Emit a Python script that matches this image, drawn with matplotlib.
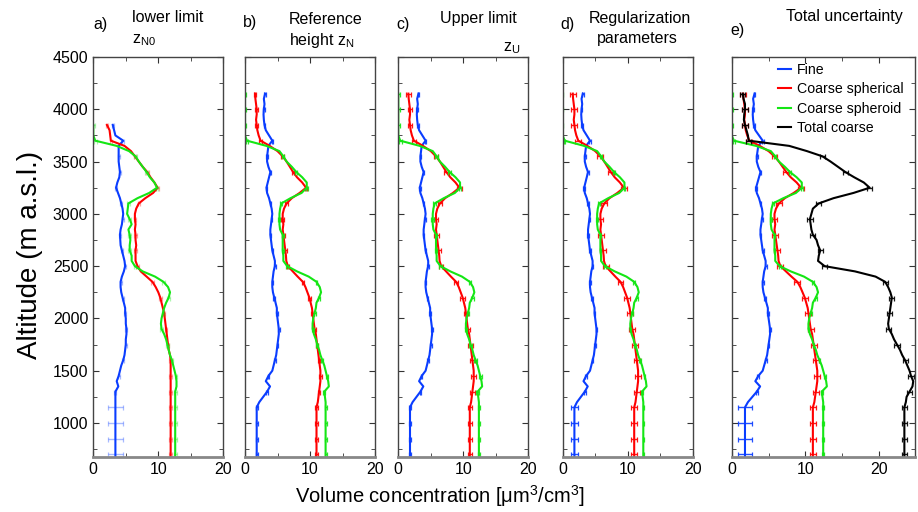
import numpy as np
import matplotlib
matplotlib.use("Agg")
import matplotlib.pyplot as plt
from matplotlib.ticker import MultipleLocator

plt.rcParams['font.family'] = ['Liberation Sans', 'DejaVu Sans']

# altitude grid (m a.s.l.), 650 ... 4150 every 50 m
altitude = np.arange(650, 4151, 50)
nan = np.nan

# reference profiles (panels b - e)
fine_ref = [1.8, 1.8, 1.8, 1.8, 1.8, 1.8, 1.8, 1.8, 1.8, 1.8, 1.8,
            2.2, 2.8, 3.4, 3.85, 3.2, 3.6, 4.2, 4.4, 4.6, 4.8,
            4.9, 5.0, 5.1, 5.2, 5.2, 5.1, 5.0, 4.9, 4.9, 4.7,
            4.5, 4.3, 4.2, 4.2, 4.3, 4.4, 4.6, 4.6, 4.4, 4.2,
            4.1, 4.0, 3.9, 3.9, 4.0, 4.1, 4.2, 4.1, 3.9, 3.7,
            3.4, 3.3, 3.5, 3.7, 3.9, 3.6, 3.4, 3.4, 3.5, 3.6,
            4.2, 3.7, 3.2, 3.0, 2.9, 2.85, 2.9, 3.0, 2.9, 3.1]
sph_ref = [11.0, 11.0, 11.0, 11.0, 11.0, 11.0, 11.0, 11.0, 11.0, 11.0, 11.0,
           11.2, 11.3, 11.4, 11.5, 11.6, 11.6, 11.6, 11.5, 11.4, 11.3,
           11.2, 11.1, 11.0, 10.9, 10.7, 10.6, 10.5, 10.4, 10.3, 10.1,
           9.9, 9.6, 9.3, 8.9, 8.1, 7.35, 6.6, 6.35, 6.3, 6.2,
           6.1, 6.0, 5.9, 5.8, 5.9, 5.8, 5.8, 6.0, 6.4, 7.2,
           8.4, 9.4, 8.8, 8.0, 7.4, 6.9, 6.4, 5.8, 5.0, 3.8,
           2.4, 2.1, 1.9, 1.8, 1.7, 1.8, 1.8, 1.7, 1.6, 1.55]
spd_ref = [12.4, 12.4, 12.4, 12.4, 12.4, 12.4, 12.4, 12.4, 12.4, 12.4, 12.4,
           12.4, 12.3, 12.2, 12.9, 12.8, 12.6, 12.4, 12.2, 11.9, 11.6,
           11.4, 11.1, 10.9, 10.6, 10.4, 10.4, 10.5, 10.7, 10.9, 11.0,
           11.4, 11.7, 11.5, 11.0, 9.8, 8.0, 6.5, 5.9, 5.9, 5.8,
           5.8, 5.8, 5.8, 5.4, 5.3, 5.3, 5.3, 5.4, 5.6, 7.0,
           8.7, 9.5, 9.5, 8.8, 7.9, 7.2, 6.4, 5.9, 5.3, 3.3,
           0.3, 0.0, 0.0, 0.0, 0.0, 0.0, 0.0, 0.0, 0.0, 0.0]
total_coarse = [23.4, 23.4, 23.4, 23.4, 23.4, 23.4, 23.4, 23.4, 23.4, 23.4, 23.4,
                23.6, 23.7, 24.1, 24.5, 24.6, 24.3, 24.1, 23.8, 23.5, 23.1,
                22.8, 22.4, 22.0, 21.7, 21.3, 21.2, 21.3, 21.4, 21.5, 21.6,
                21.7, 21.5, 21.2, 20.8, 19.5, 16.7, 12.6, 11.7, 11.8, 12.0,
                11.7, 11.5, 11.0, 10.8, 10.7, 10.6, 10.8, 11.0, 11.8, 13.8,
                16.5, 18.7, 17.9, 16.6, 15.4, 14.4, 13.4, 12.3, 10.2, 7.8,
                2.3, 2.2, 2.0, 1.8, 1.65, 1.7, 1.8, 1.8, 1.6, 1.5]

# panel a (lower limit z_N0)
fine_a = [3.4, 3.4, 3.4, 3.4, 3.4, 3.4, 3.4, 3.4, 3.4, 3.4, 3.4, 3.4, 3.4,
          3.4, 3.85, 3.6, 3.9, 4.1, 4.3, 4.6, 4.8, 4.9, 5.0,
          5.0, 5.1, 5.1, 5.0, 5.0, 4.9, 4.9, 4.7, 4.5, 4.3,
          4.2, 4.2, 4.4, 4.7, 4.9, 4.8, 4.6, 4.4, 4.2, 4.15,
          4.1, 4.2, 4.4, 4.5, 4.6, 4.5, 4.3, 4.1, 3.8, 3.5,
          3.7, 4.0, 4.1, 4.0, 3.9, 3.9, 3.9, 3.9, 4.6, 3.4,
          3.2, 3.0, nan, nan, nan, nan, nan, nan]
sph_a = [11.9, 11.9, 11.9, 11.9, 11.9, 11.9, 11.9, 11.9, 11.9, 11.9,
         11.9, 11.9, 11.9, 11.9, 11.9, 11.9, 11.9, 11.9, 11.9, 11.9,
         11.8, 11.6, 11.5, 11.4, 11.3, 11.2, 11.1, 11.0, 10.9, 10.7,
         10.5, 10.3, 10.0, 9.6, 9.1, 8.2, 7.3, 6.8, 6.5, 6.5,
         6.5, 6.6, 6.5, 6.5, 6.4, 6.5, 6.4, 6.4, 6.6, 7.0,
         8.0, 9.2, 9.9, 9.4, 8.8, 8.3, 7.6, 7.0, 6.4, 5.8,
         4.8, 2.7, 2.6, 2.5, 2.1, nan, nan, nan, nan, nan, nan]
spd_a = [12.6, 12.6, 12.6, 12.6, 12.6, 12.6, 12.6, 12.6, 12.6, 12.6, 12.6, 12.6, 12.6, 12.6,
         12.8, 12.8, 12.7, 12.5, 12.3, 12.1, 11.8, 11.6, 11.4, 11.2,
         10.9, 10.5, 10.4, 10.5, 10.7, 10.9, 11.2, 11.6, 11.8, 11.5,
         10.8, 9.5, 7.6, 6.4, 5.9, 5.9, 5.6, 5.6, 5.7, 5.6,
         5.4, 5.9, 5.6, 5.2, 5.3, 5.4, 6.8, 8.6, 9.8, 9.4,
         8.7, 8.2, 7.6, 7.0, 6.5, 5.5, 3.6, 0.3, 0.0, 0.0,
         0.0, nan, nan, nan, nan, nan, nan]

# uncertainty half widths per panel (a..e)
fine_err_low = [1.1, 0.15, 0.15, 0.5, 0.9]   # constant fine layer below 1200 m
fine_err = [0.15, 0.12, 0.12, 0.12, 0.12]
sph_err = [0.2, 0.2, 0.35, 0.45, 0.4]
spd_err = [0.2, 0.15, 0.2, 0.12, 0.12]
total_err = 0.35

labels = ["Fine", "Coarse spherical", "Coarse spheroid", "Total coarse"]
colors = ["#0a3dff", "#ff0000", "#14e614", "#000000"]

fig = plt.figure(figsize=(9.18, 5.12), dpi=100)

lefts = [93.3, 245, 398.3, 562.7, 731.7]
widths = [130, 130, 130, 130, 183]
axes = []
for i in range(5):
    ax = fig.add_axes([lefts[i] / 918, 55 / 512, widths[i] / 918, 400 / 512])
    axes.append(ax)

handles = []
for i, ax in enumerate(axes):
    if i == 0:
        fine, sph, spd = fine_a, sph_a, spd_a
        ealpha = 0.35
    else:
        fine, sph, spd = fine_ref, sph_ref, spd_ref
        ealpha = 0.9
    series = [np.array(fine), np.array(sph), np.array(spd)]
    errs = [np.where(altitude < 1200, fine_err_low[i], fine_err[i]),
            np.full(altitude.shape, sph_err[i]),
            np.full(altitude.shape, spd_err[i])]
    if i == 4:
        series.append(np.array(total_coarse))
        errs.append(np.full(altitude.shape, total_err))

    for k, vals in enumerate(series):
        line, = ax.plot(vals, altitude, color=colors[k], lw=1.5, label=labels[k])
        if i == 4:
            handles.append(line)
        sel = slice(1, None, 3)
        ax.errorbar(vals[sel], altitude[sel], xerr=errs[k][sel], fmt='none',
                    ecolor=colors[k], elinewidth=1.0, capsize=1.8, capthick=0.9,
                    alpha=ealpha)

    ax.set_ylim(675, 4500)
    if i == 4:
        ax.set_xlim(0, 24.8)
    else:
        ax.set_xlim(0, 20)
    ax.set_xticks([0, 10, 20])
    ax.xaxis.set_minor_locator(MultipleLocator(5))
    ax.yaxis.set_major_locator(MultipleLocator(500))
    ax.yaxis.set_minor_locator(MultipleLocator(250))
    ax.tick_params(which='both', direction='in', top=True, right=True,
                   labelsize=11.5, color='#333333')
    ax.tick_params(which='major', length=4.5)
    ax.tick_params(which='minor', length=3)
    if i > 0:
        ax.tick_params(labelleft=False)
    for side in ['left', 'right', 'top']:
        ax.spines[side].set_color('#444444')
        ax.spines[side].set_linewidth(1.0)
    ax.spines['bottom'].set_color('#888888')
    ax.spines['bottom'].set_linewidth(2.0)

# panel titles
fs = 11.5
fig.text(93 / 918, 1 - 24 / 512, "a)", fontsize=fs, va='center')
fig.text(132 / 918, 1 - 18 / 512, "lower limit", fontsize=fs, va='center')
fig.text(132 / 918, 1 - 40 / 512, r"z$_\mathregular{N0}$", fontsize=fs, va='center')

fig.text(243 / 918, 1 - 23 / 512, "b)", fontsize=fs, va='center')
fig.text(289 / 918, 1 - 19 / 512, "Reference", fontsize=fs, va='center')
fig.text(289 / 918, 1 - 40 / 512, r"height z$_\mathregular{N}$", fontsize=fs, va='center')

fig.text(396 / 918, 1 - 25 / 512, "c)", fontsize=fs, va='center')
fig.text(440 / 918, 1 - 19 / 512, "Upper limit", fontsize=fs, va='center')
fig.text(503 / 918, 1 - 48 / 512, r"z$_\mathregular{U}$", fontsize=fs, va='center')

fig.text(560 / 918, 1 - 25 / 512, "d)", fontsize=fs, va='center')
fig.text(640 / 918, 1 - 18 / 512, "Regularization", fontsize=fs, va='center', ha='center')
fig.text(637 / 918, 1 - 38 / 512, "parameters", fontsize=fs, va='center', ha='center')

fig.text(730 / 918, 1 - 31 / 512, "e)", fontsize=fs, va='center')
fig.text(786 / 918, 1 - 17 / 512, "Total uncertainty", fontsize=fs, va='center')

# legend in panel e
axes[4].legend(handles, labels, loc='upper left', bbox_to_anchor=(0.2, 1.01),
               frameon=False, fontsize=10.2, handlelength=0.9, handletextpad=0.4,
               labelspacing=0.38, borderpad=0.2)

fig.text(30 / 918, 257 / 512, "Altitude (m a.s.l.)", fontsize=20, rotation=90,
         va='center', ha='center')
fig.text(440 / 918, 1 - 496 / 512, "Volume concentration [μm$^\\mathregular{3}$/cm$^\\mathregular{3}$]",
         fontsize=14.5, va='center', ha='center')

fig.savefig("out.png", dpi=100)
